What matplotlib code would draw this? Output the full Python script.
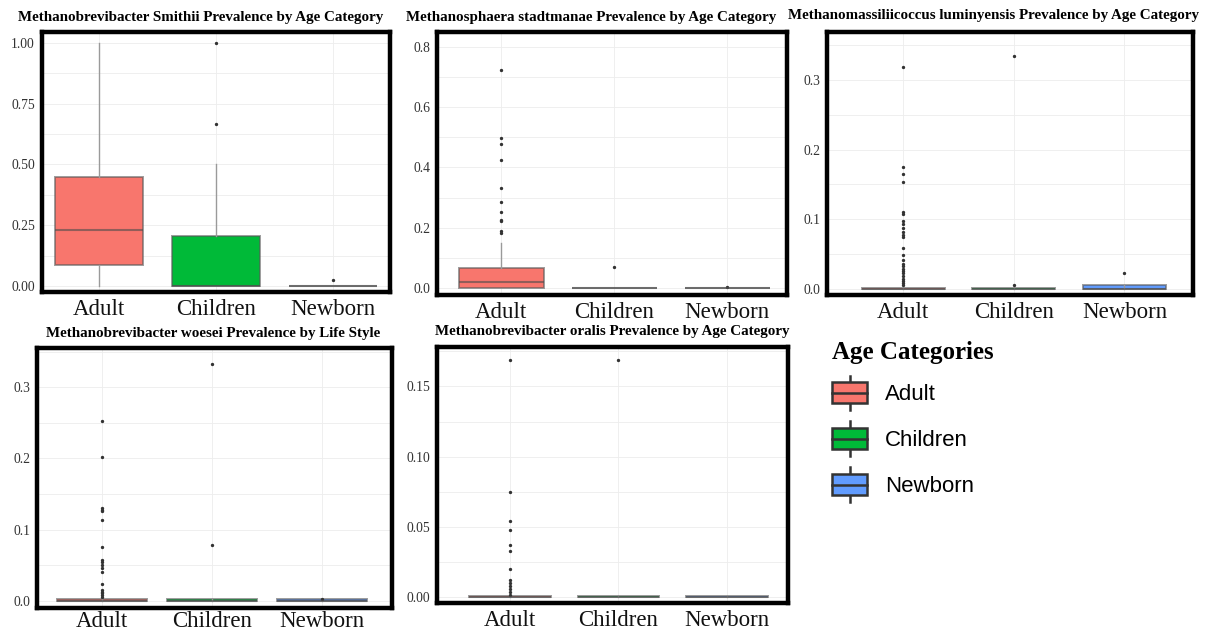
import matplotlib
matplotlib.use("Agg")
import matplotlib.pyplot as plt
from matplotlib.ticker import AutoMinorLocator, FormatStrFormatter
from matplotlib.patches import Patch, Rectangle
from matplotlib.lines import Line2D
from matplotlib.legend_handler import HandlerBase

plt.rcParams['font.family'] = ['Liberation Serif', 'DejaVu Serif']

categories = ["Adult", "Children", "Newborn"]
colors = ["#F8766D", "#00BA38", "#619CFF"]

# (q1, median, q3) and (low, high) whisker ends, one entry per age category
smithii_quartiles = [(0.085, 0.23, 0.45), (0.0, 0.0, 0.205), (0.0, 0.0, 0.0)]
smithii_whiskers = [(0.0, 1.0), (0.0, 0.5), (0.0, 0.0)]
smithii_outliers = [[], [0.667, 1.0], [0.025]]

stadtmanae_quartiles = [(0.0, 0.02, 0.065), (0.0, 0.0, 0.0), (0.0, 0.0, 0.0)]
stadtmanae_whiskers = [(0.0, 0.148), (0.0, 0.0), (0.0, 0.0)]
stadtmanae_outliers = [[0.722, 0.499, 0.477, 0.423, 0.333, 0.287, 0.251, 0.226, 0.222, 0.19, 0.182],
                       [0.071], [0.002]]

luminyensis_quartiles = [(0.0, 0.0, 0.001), (0.0, 0.0, 0.001), (0.0, 0.0, 0.005)]
luminyensis_whiskers = [(0.0, 0.0), (0.0, 0.0), (0.0, 0.0)]
luminyensis_outliers = [[0.319, 0.175, 0.165, 0.154, 0.110, 0.108, 0.098, 0.093, 0.087, 0.081,
                         0.077, 0.074, 0.059, 0.048, 0.042, 0.036, 0.032, 0.028, 0.025, 0.022,
                         0.018, 0.014, 0.011, 0.0076, 0.0047],
                        [0.335, 0.005], [0.022]]

woesei_quartiles = [(0.0, 0.0, 0.003), (0.0, 0.0, 0.003), (0.0, 0.0, 0.003)]
woesei_whiskers = [(0.0, 0.0), (0.0, 0.0), (0.0, 0.0)]
woesei_outliers = [[0.253, 0.202, 0.131, 0.128, 0.126, 0.113, 0.076, 0.058, 0.055, 0.051,
                    0.046, 0.040, 0.023, 0.015, 0.013, 0.011, 0.008, 0.006],
                   [0.333, 0.078], [0.002]]

oralis_quartiles = [(0.0, 0.0, 0.001), (0.0, 0.0, 0.001), (0.0, 0.0, 0.001)]
oralis_whiskers = [(0.0, 0.0), (0.0, 0.0), (0.0, 0.0)]
oralis_outliers = [[0.169, 0.075, 0.054, 0.048, 0.037, 0.033, 0.020, 0.012, 0.010, 0.008,
                    0.006, 0.004, 0.002],
                   [0.169], []]

W, H = 1210, 633
fig = plt.figure(figsize=(W / 100, H / 100), dpi=100)


def px_axes(x0, y0, x1, y1):
    return fig.add_axes([x0 / W, 1 - y1 / H, (x1 - x0) / W, (y1 - y0) / H])


def box_panel(ax, quartiles, whiskers, outliers, yticks, fmt, ylim, xlim,
              width=0.75, xpad=5):
    stats = []
    for name, (q1, med, q3), (lo, hi), fl in zip(categories, quartiles, whiskers, outliers):
        stats.append(dict(label=name, q1=q1, med=med, q3=q3, whislo=lo, whishi=hi, fliers=fl))
    parts = ax.bxp(stats, positions=[1, 2, 3], widths=width, patch_artist=True,
                   showcaps=False,
                   boxprops=dict(edgecolor=(0.35, 0.35, 0.35, 0.6), linewidth=1.4),
                   medianprops=dict(color=(0.3, 0.3, 0.3, 0.6), linewidth=1.5),
                   whiskerprops=dict(color="#9a9a9a", linewidth=1.0),
                   flierprops=dict(marker="o", markersize=1.4, markerfacecolor="#333333",
                                   markeredgecolor="#333333", linestyle="none"))
    for patch, c in zip(parts["boxes"], colors):
        patch.set_facecolor(c)
    ax.set_xlim(*xlim)
    ax.set_ylim(*ylim)
    ax.set_yticks(yticks)
    ax.yaxis.set_major_formatter(FormatStrFormatter(fmt))
    ax.yaxis.set_minor_locator(AutoMinorLocator(2))
    ax.set_axisbelow(True)
    ax.grid(True, which="both", axis="y", color="#ededed", linewidth=0.6)
    ax.grid(True, which="major", axis="x", color="#ededed", linewidth=0.6)
    ax.tick_params(axis="both", which="both", length=0)
    ax.tick_params(axis="y", labelsize=9.8, labelcolor="#333333", pad=5)
    ax.tick_params(axis="x", labelsize=16.5, labelcolor="#111111", pad=xpad)
    for s in ax.spines.values():
        s.set_linewidth(3.2)
        s.set_color("black")


ax1 = px_axes(42, 32, 390, 292)
box_panel(ax1, smithii_quartiles, smithii_whiskers, smithii_outliers,
          [0, 0.25, 0.5, 0.75, 1.0], "%.2f", (-0.025, 1.045), (0.51, 3.49))

ax2 = px_axes(437, 32, 787, 295)
box_panel(ax2, stadtmanae_quartiles, stadtmanae_whiskers, stadtmanae_outliers,
          [0, 0.2, 0.4, 0.6, 0.8], "%.1f", (-0.023, 0.849), (0.43, 3.53))

ax3 = px_axes(827, 32, 1193, 295)
box_panel(ax3, luminyensis_quartiles, luminyensis_whiskers, luminyensis_outliers,
          [0, 0.1, 0.2, 0.3], "%.1f", (-0.009, 0.369), (0.31, 3.62))

ax4 = px_axes(37, 348, 392, 608)
box_panel(ax4, woesei_quartiles, woesei_whiskers, woesei_outliers,
          [0, 0.1, 0.2, 0.3], "%.1f", (-0.01, 0.355), (0.41, 3.64),
          width=0.82, xpad=2.5)

ax5 = px_axes(437, 347, 788, 603)
box_panel(ax5, oralis_quartiles, oralis_whiskers, oralis_outliers,
          [0, 0.05, 0.10, 0.15], "%.2f", (-0.004, 0.178), (0.33, 3.56))

titles = [
    ("Methanobrevibacter Smithii Prevalence by Age Category", 201, 17),
    ("Methanosphaera stadtmanae Prevalence by Age Category", 591, 17),
    ("Methanomassiliicoccus luminyensis Prevalence by Age Category", 993, 15),
    ("Methanobrevibacter woesei Prevalence by Life Style", 213, 333),
    ("Methanobrevibacter oralis Prevalence by Age Category", 612, 331),
]
for text, x, y in titles:
    fig.text(x / W, 1 - y / H, text, ha="center", va="center",
             fontsize=10.8, fontweight="bold")


class BoxKeyHandler(HandlerBase):
    # ggplot-style boxplot key: filled box, median bar and whisker stubs
    def create_artists(self, legend, orig_handle, xdescent, ydescent,
                       width, height, fontsize, trans):
        face = orig_handle.get_facecolor()
        bh = height * 0.62
        x0 = -xdescent
        y0 = -ydescent + (height - bh) / 2
        stub = Line2D([x0 + width / 2] * 2, [-ydescent, -ydescent + height],
                      color="#333333", lw=1.8, transform=trans)
        rect = Rectangle((x0, y0), width, bh, facecolor=face, edgecolor="#333333",
                         lw=1.8, transform=trans)
        mid = Line2D([x0, x0 + width], [y0 + bh / 2] * 2, color="#333333",
                     lw=1.8, transform=trans)
        return [stub, rect, mid]


handles = [Patch(facecolor=c) for c in colors]
leg = fig.legend(handles, categories, loc="upper left",
                 bbox_to_anchor=(832 / W, 1 - 341 / H), frameon=False,
                 borderpad=0, borderaxespad=0,
                 handler_map={Patch: BoxKeyHandler()},
                 handlelength=1.58, handleheight=2.0, handletextpad=0.8,
                 labelspacing=0.52,
                 prop={"family": "Liberation Sans", "size": 16},
                 title="Age Categories",
                 title_fontproperties={"family": "Liberation Serif", "size": 18,
                                       "weight": "bold"},
                 alignment="left")

fig.savefig("out.png", dpi=100)
